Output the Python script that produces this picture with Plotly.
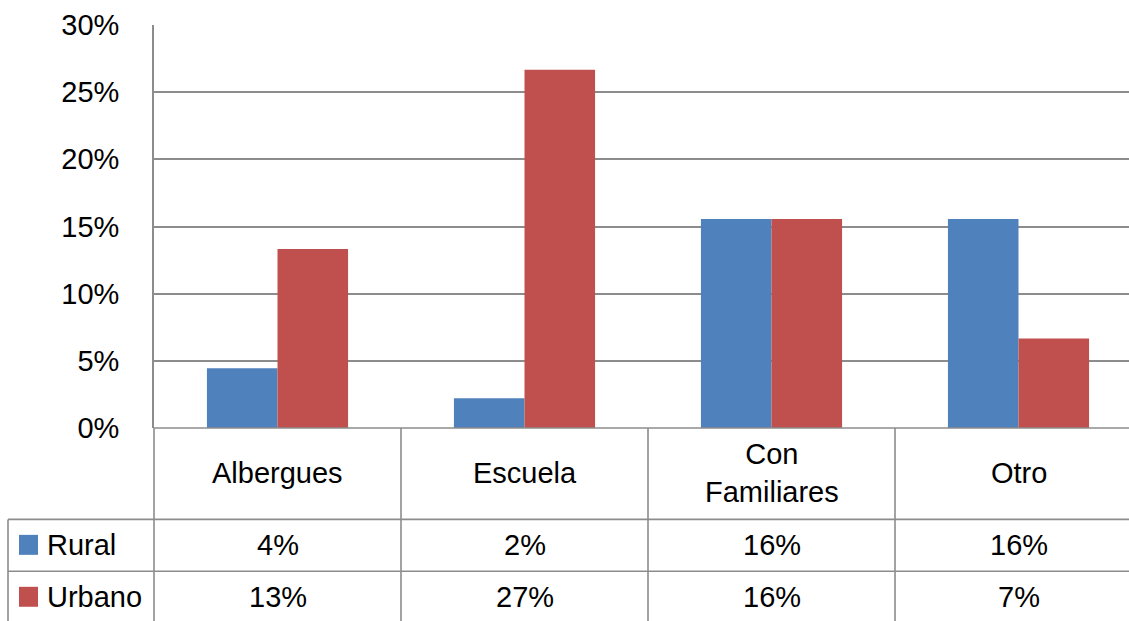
import plotly.graph_objects as go

categories = ["Albergues", "Escuela", "Con<br>Familiares", "Otro"]
series_names = ["Rural", "Urbano"]
rural = [0.0444, 0.0222, 0.1556, 0.1556]
urbano = [0.1333, 0.2667, 0.1556, 0.0667]
colors = ["#4F81BD", "#C0504D"]
y_ticks = [0, 0.05, 0.10, 0.15, 0.20, 0.25, 0.30]

FONT = "Liberation Sans, Arial, sans-serif"
FS = 29
GRID = "#8c8c8c"

W, H = 1129, 621
L, T, B = 154, 25, 192.5
plot_w = W - L
plot_h = H - T - B
cat_px = 247.0
x_max = -0.5 + plot_w / cat_px


def py(px):
    """pixel offset below the x axis -> paper y"""
    return -px / plot_h


def pxx(px):
    """window pixel x -> paper x"""
    return (px - L) / plot_w


x_pos = list(range(len(categories)))

fig = go.Figure()
for name, vals, col in zip(series_names, [rural, urbano], colors):
    fig.add_trace(go.Bar(x=x_pos, y=vals, name=name, marker=dict(color=col, line=dict(width=0)),
                         showlegend=False))

fig.update_layout(
    width=W, height=H,
    margin=dict(l=L, r=0, t=T, b=B),
    paper_bgcolor="white", plot_bgcolor="white",
    barmode="group", bargap=0.4286, bargroupgap=0,
    font=dict(family=FONT, size=FS, color="black"),
    xaxis=dict(range=[-0.5, x_max], showticklabels=False, showgrid=False, zeroline=False,
               showline=False, ticks=""),
    yaxis=dict(range=[0, 0.30], tickvals=y_ticks, tickformat=".0%", showgrid=True,
               gridcolor=GRID, gridwidth=1.6, zeroline=False, showline=True,
               linecolor=GRID, linewidth=1.6, ticks="", ticklabelstandoff=27,
               tickfont=dict(family=FONT, size=FS)),
)

# table geometry (pixels below x axis)
row_head = 91.5
row_h = 52
bottom = 200
shapes = []
line = dict(color=GRID, width=1.6)
shapes.append(dict(type="line", xref="paper", yref="paper", x0=0, x1=1, y0=0, y1=0, line=line))
for k in range(2):
    yy = py(row_head + k * row_h)
    shapes.append(dict(type="line", xref="paper", yref="paper", x0=pxx(8), x1=1, y0=yy, y1=yy, line=line))
shapes.append(dict(type="line", xref="paper", yref="paper", x0=0, x1=0, y0=0, y1=py(bottom), line=line))
shapes.append(dict(type="line", xref="paper", yref="paper", x0=pxx(8), x1=pxx(8),
                   y0=py(row_head), y1=py(bottom), line=line))
for i in range(len(categories) - 1):
    shapes.append(dict(type="line", xref="x", yref="paper", x0=i + 0.5, x1=i + 0.5,
                       y0=0, y1=py(bottom), line=line))
for k, col in enumerate(colors):
    top = row_head + k * row_h + 15.5
    shapes.append(dict(type="rect", xref="paper", yref="paper", x0=pxx(19), x1=pxx(38),
                       y0=py(top), y1=py(top + 20), fillcolor=col, line=dict(width=0)))

annotations = []
for i, c in enumerate(categories):
    annotations.append(dict(x=i, y=py(row_head / 2 - 1), xref="x", yref="paper", text=c, showarrow=False,
                            xanchor="center", yanchor="middle", font=dict(family=FONT, size=FS)))
for k, (name, vals) in enumerate(zip(series_names, [rural, urbano])):
    ymid = py(row_head + k * row_h + row_h / 2)
    annotations.append(dict(x=pxx(45), y=ymid, xref="paper", yref="paper", text=name, showarrow=False,
                            xanchor="left", yanchor="middle", font=dict(family=FONT, size=FS)))
    for i, v in enumerate(vals):
        annotations.append(dict(x=i, y=ymid, xref="x", yref="paper", text=f"{v:.0%}", showarrow=False,
                                xanchor="center", yanchor="middle", font=dict(family=FONT, size=FS)))

fig.update_layout(shapes=shapes, annotations=annotations)
fig.write_html(
    "out.html",
    config={"displayModeBar": False},
    post_script="document.body.style.margin='0';document.body.style.overflow='hidden';",
)
